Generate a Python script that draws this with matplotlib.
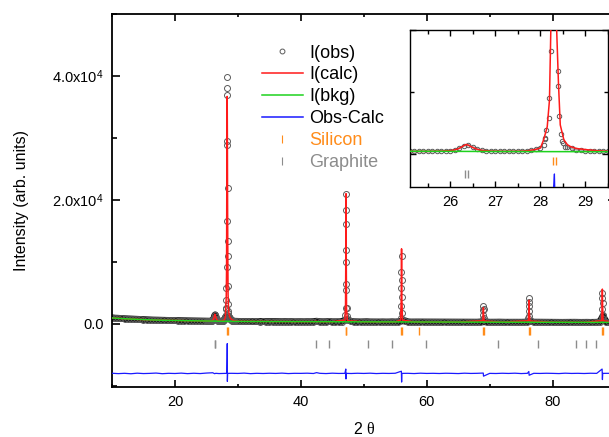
import numpy as np
import matplotlib
matplotlib.use('Agg')
import matplotlib.pyplot as plt
from matplotlib.ticker import MultipleLocator
from matplotlib.lines import Line2D

plt.rcParams['font.family'] = ['Liberation Sans', 'DejaVu Sans']
plt.rcParams['mathtext.fontset'] = 'custom'
plt.rcParams['mathtext.rm'] = 'Liberation Sans'
plt.rcParams['mathtext.it'] = 'Liberation Serif'

tth_a = np.arange(10.0, 24.75, 0.5)
obs_a = [985, 925, 905, 860, 835, 795, 780, 750, 725, 705, 690, 655, 650, 625, 605,
         600, 585, 575, 560, 545, 545, 525, 520, 505, 500, 495, 480, 475, 465, 455]
tth_c = np.arange(30.0, 90.25, 0.5)
obs_c = [405, 390, 395, 380, 390, 375, 380, 370, 395, 370, 372, 360, 368, 358, 352, 362, 350, 358, 342, 352,
         350, 340, 352, 345, 365, 430, 355, 342, 350, 385, 340, 335, 342, 365, 620, 690, 390, 345, 332, 322,
         330, 350, 320, 312, 318, 310, 322, 308, 312, 335, 312, 345, 10900, 520, 330, 305, 300, 310, 308, 295,
         315, 292, 290, 295, 285, 292, 288, 282, 290, 280, 285, 278, 282, 275, 280, 272, 278, 310, 2900, 320,
         272, 268, 275, 285, 268, 265, 270, 262, 268, 260, 265, 275, 340, 420, 280, 275, 258, 255, 260, 252,
         255, 250, 255, 248, 252, 246, 250, 262, 248, 244, 250, 255, 242, 248, 260, 320, 1300, 300, 245, 238,
         240]
# rejilla fina (zona del recuadro)
tth_b = np.arange(25.0, 29.55, 0.1)
obs_b = [445, 450, 432, 442, 450, 438, 458, 468, 492, 525,
         575, 700, 960, 1360, 1470, 1120, 790, 615, 530, 488,
         465, 450, 442, 446, 452, 462, 485, 525, 610, 770,
         1060, 2600, 9100, 37000, 11000, 1750, 1180, 905, 720, 615,
         560, 505, 480, 455, 440, 425]
# puntos sobre los picos
tth_pk = [28.07, 28.11, 28.13, 28.19, 28.23, 28.26, 28.28, 28.31, 28.33, 28.35, 28.39, 28.42, 28.45, 28.48, 28.55,
          47.05, 47.10, 47.12, 47.14, 47.16, 47.18, 47.20, 47.22, 47.24, 47.27, 47.30,
          55.90, 55.94, 55.96, 55.98, 56.02, 56.04, 56.07,
          68.90, 68.95, 68.98, 69.03, 69.06,
          76.15, 76.20, 76.23, 76.25, 76.28, 76.32,
          87.80, 87.85, 87.88, 87.90, 87.93, 87.97, 88.05]
obs_pk = [1450, 2400, 3900, 5800, 16600, 29500, 39900, 38000, 28900, 22000, 13400, 6100, 3200, 2100, 1100,
          1500, 2600, 5500, 10000, 16100, 21000, 18400, 11900, 6400, 2600, 1200,
          1000, 2900, 5800, 8300, 7100, 4400, 1800,
          700, 1500, 2200, 2400, 1000,
          900, 2000, 3500, 4200, 2800, 1200,
          900, 2400, 4200, 5000, 3300, 1500, 800]

# Perfil calculado
calc_x = [10, 12, 14, 16, 18, 20, 22, 24, 25, 25.5, 25.8, 26.0, 26.1, 26.2, 26.3, 26.35, 26.4, 26.5, 26.6,
          26.7, 26.9, 27.2, 27.5, 27.7, 27.9, 28.0, 28.07, 28.15, 28.2, 28.23, 28.26, 28.3, 28.33, 28.36,
          28.4, 28.44, 28.52, 28.6, 28.67, 28.8, 29.04, 29.3, 29.5, 30, 35, 40, 42.2, 42.4, 42.6, 45,
          47.0, 47.1, 47.15, 47.18, 47.21, 47.26, 47.4, 50, 55, 55.85, 55.95, 56.0, 56.05, 56.15, 58, 60,
          65, 68.9, 68.97, 69.0, 69.04, 69.12, 72, 76.15, 76.22, 76.25, 76.29, 76.38, 80, 85, 87.8, 87.86,
          87.9, 87.94, 88.02, 90]
calc_y = [950, 820, 720, 640, 580, 540, 500, 460, 440, 440, 480, 560, 680, 950, 1380, 1550, 1420, 1050, 760,
          600, 480, 440, 450, 520, 760, 1000, 2300, 4400, 8700, 20000, 30000, 36700, 30000, 20000,
          11400, 4700, 2300, 1500, 1200, 900, 700, 520, 450, 400, 370, 350, 350, 420, 345, 335,
          600, 3000, 12000, 21000, 12000, 2500, 500, 320, 310, 600, 4000, 12100, 4000, 600, 300, 290,
          280, 500, 1600, 2600, 1400, 450, 270, 500, 2200, 3800, 2000, 450, 250, 240, 500, 3200,
          5600, 3000, 500, 230]

# Fondo
bkg_x = [10, 12, 14, 16, 18, 20, 22, 24, 26, 28, 30, 35, 40, 45, 50, 55, 60, 65, 70, 75, 80, 85, 90]
bkg_y = [950, 820, 720, 640, 580, 540, 500, 470, 440, 400, 385, 360, 345, 330, 315, 305, 290, 280, 270, 260, 250, 240, 230]

# Diferencia obs-calc (desplazada)
diff_x = [10, 11, 12, 13, 14, 15, 16, 17, 18, 19, 20, 21, 22, 23, 24, 25, 26, 26.3, 26.5, 27, 28,
          28.25, 28.29, 28.31, 28.33, 28.37, 29, 30, 31, 32, 33, 34, 35, 36, 37, 38, 39, 40, 41, 42, 42.5,
          43, 44, 45, 46, 47, 47.14, 47.17, 47.2, 47.24, 48, 49, 50, 51, 52, 53, 54, 55, 55.97, 56.01,
          56.05, 57, 58, 59, 60, 61, 62, 63, 64, 65, 66, 67, 68, 68.98, 69.02, 70, 71, 72, 73, 74, 75, 76,
          76.22, 76.27, 77, 78, 79, 80, 81, 82, 83, 84, 85, 86, 87, 87.86, 87.91, 87.96, 89, 90]
diff_y = [-7980, -8040, -7990, -8060, -7970, -8030, -8000, -7950, -8050, -7990, -8020, -7960, -8040, -7980,
          -8030, -7950, -7900, -8050, -7990, -8030, -8000,
          -8000, -5500, -3200, -9300, -8000, -7990, -8010, -7960, -8040, -7990, -8020, -7980, -8010, -7960,
          -8030, -7990, -8000, -7970, -8020, -7880,
          -7990, -8030, -7970, -8010, -8000, -7300, -8900, -8000, -8000, -8020, -7980, -8010, -7970, -8030,
          -7990, -8010, -7980, -7650, -9400,
          -8000, -7990, -8030, -7970, -8010, -7990, -8020, -7980, -8000, -8030, -7970, -8010, -7990, -7950,
          -8450, -8000, -8020, -7980, -8010, -7970, -8030, -7990, -7700, -8300, -7990, -8010, -7980,
          -8000, -8030, -7970, -8010, -7990, -8020, -7980, -8000, -7300, -9000, -8000, -7990, -8010]

# Posiciones de reflexiones
si_pos = [28.28, 28.35, 47.15, 47.25, 55.98, 56.08, 58.78, 68.98, 69.12, 76.22, 76.38, 87.85, 88.05]
gr_pos = [26.33, 26.39, 42.35, 44.5, 50.6, 54.5, 59.9, 71.4, 77.6, 83.7, 85.3, 86.9]

obs_x = np.concatenate([tth_a, tth_b, tth_c, tth_pk])
obs_y = np.concatenate([obs_a, obs_b, obs_c, obs_pk])

# banda de puntos densos del fondo (solo rejilla, sin cimas)
grid_x = np.concatenate([tth_a, tth_b, tth_c])
grid_y = np.concatenate([obs_a, obs_b, obs_c])
low = grid_y < 1500
order = np.argsort(grid_x[low])
band_x = grid_x[low][order]
band_y = grid_y[low][order]

clr_obs = '#5a5a5a'
clr_calc = '#ff1a1a'
clr_bkg = '#1ed21e'
clr_diff = '#1a1aff'
clr_si = '#ff8c1a'
clr_gr = '#8c8c8c'
si_lvl, gr_lvl = -1150, -3200

fig = plt.figure(figsize=(6.09, 4.37), dpi=100)
ax = fig.add_axes([0.1839, 0.1144, 0.8269, 0.8535])


def draw(a, ms, tick_ms):
    a.plot(obs_x, obs_y, 'o', mfc='none', mec=clr_obs, mew=0.7, ms=ms, zorder=2)
    a.plot(calc_x, calc_y, '-', color=clr_calc, lw=1.1, zorder=3)
    a.plot(bkg_x, bkg_y, '-', color=clr_bkg, lw=1.1, zorder=4)
    a.plot(diff_x, diff_y, '-', color=clr_diff, lw=0.9, zorder=3)
    a.plot(si_pos, [si_lvl] * len(si_pos), '|', color=clr_si, ms=tick_ms, mew=1, zorder=3)
    a.plot(gr_pos, [gr_lvl] * len(gr_pos), '|', color=clr_gr, ms=tick_ms, mew=1, zorder=3)


ax.plot(band_x, band_y, '-', color='#111111', lw=4.8, zorder=1.5)
draw(ax, 4.3, 6)
ax.set_xlim(10, 90)
ax.set_ylim(-10200, 50000)
ax.set_xticks([20, 40, 60, 80])
ax.xaxis.set_minor_locator(MultipleLocator(10))
ax.set_yticks([0, 20000, 40000])
ax.set_yticklabels(['0.0', '2.0x10$^4$', '4.0x10$^4$'])
ax.yaxis.set_minor_locator(MultipleLocator(10000))
ax.tick_params(which='both', direction='in', top=True, right=True, labelsize=10.5, width=1.2)
ax.tick_params(axis='x', which='major', length=5, pad=6)
ax.tick_params(axis='x', which='minor', length=2.5)
ax.tick_params(axis='y', which='major', length=6, pad=6)
ax.tick_params(axis='y', which='minor', length=3.5)
for s in ax.spines.values():
    s.set_linewidth(1.3)
ax.set_xlabel('2 $\\theta$', fontsize=11.5, labelpad=8.5)
ax.set_ylabel('Intensity (arb. units)', fontsize=11.5, labelpad=17)

# Leyenda
hs = [Line2D([], [], ls='none', marker='o', mfc='none', mec=clr_obs, mew=0.7, ms=3.5),
      Line2D([], [], color=clr_calc, lw=1.1),
      Line2D([], [], color=clr_bkg, lw=1.1),
      Line2D([], [], color=clr_diff, lw=1.1),
      Line2D([], [], ls='none', marker='|', color=clr_si, ms=6, mew=0.8),
      Line2D([], [], ls='none', marker='|', color=clr_gr, ms=6, mew=0.8)]
lb = ['I(obs)', 'I(calc)', 'I(bkg)', 'Obs-Calc', 'Silicon', 'Graphite']
leg = fig.legend(hs, lb, loc='upper left', bbox_to_anchor=(0.4297, 0.898), frameon=False,
                 fontsize=13, handlelength=2.3, handletextpad=0.35, labelspacing=0.27,
                 borderpad=0, borderaxespad=0, numpoints=1)
leg.get_texts()[4].set_color(clr_si)
leg.get_texts()[5].set_color(clr_gr)

# Recuadro ampliado
axi = fig.add_axes([0.6732, 0.5721, 0.3251, 0.3593])
left_b = band_x < 28.05
right_b = band_x > 28.55
axi.plot(band_x[left_b], band_y[left_b], '-', color='#b0b0b0', lw=1.6, zorder=1.5)
axi.plot(band_x[right_b], band_y[right_b], '-', color='#b0b0b0', lw=1.6, zorder=1.5)
draw(axi, 3.2, 6)
axi.set_xlim(25.1, 29.5)
axi.set_ylim(-5300, 20000)
axi.xaxis.set_major_locator(MultipleLocator(1))
axi.xaxis.set_minor_locator(MultipleLocator(0.5))
axi.yaxis.set_major_locator(MultipleLocator(20000))
axi.yaxis.set_minor_locator(MultipleLocator(10000))
axi.tick_params(which='both', direction='in', top=True, right=True, labelleft=False,
                labelsize=10.5, width=1.0)
axi.tick_params(which='major', length=4, pad=6)
axi.tick_params(which='minor', length=3)
for s in axi.spines.values():
    s.set_linewidth(1.0)

fig.savefig('out.png', dpi=100)
